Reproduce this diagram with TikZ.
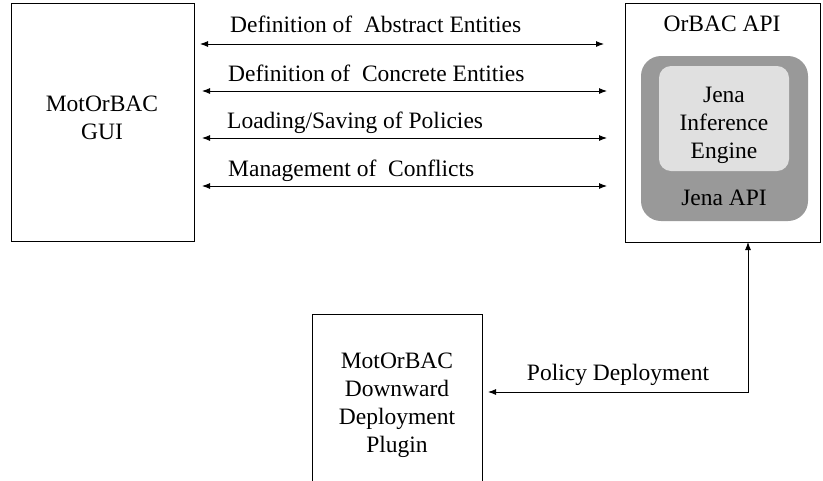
\documentclass[tikz,border=0pt]{standalone}
\usepackage{fontspec}
\setmainfont{Liberation Serif}
\usetikzlibrary{arrows.meta}
\begin{document}
\begin{tikzpicture}[x=1pt,y=-1pt,
  box/.style={draw,line width=0.9pt,inner sep=0pt,outer sep=0pt},
  txt/.style={font=\fontsize{23.5}{28}\selectfont,inner sep=0pt,align=center},
  tip/.style={Latex[length=8pt,width=6pt]},
  biconn/.style={line width=0.9pt,{Latex[length=8pt,width=6pt]}-{Latex[length=8pt,width=6pt]}}]
\clip (0,0) rectangle (823,480);
% boxes
\node[box,minimum width=183pt,minimum height=238pt] (gui) at (102.5,122) {};
\node[box,minimum width=195pt,minimum height=239pt] (api) at (722.5,122.5) {};
\node[fill=black!40,rounded corners=20pt,inner sep=0pt,minimum width=167pt,minimum height=165pt] (jena) at (724.5,138.5) {};
\node[fill=black!12,rounded corners=12pt,inner sep=0pt,minimum width=130pt,minimum height=105pt] (engine) at (724,118.5) {};
\node[box,minimum width=170pt,minimum height=176pt] (plugin) at (397,402) {};
% texts
\node[txt] (guitxt) at (102,118) {MotOrBAC\\GUI};
\node[txt,anchor=base] (apitxt) at (722,31) {OrBAC API};
\node[txt] (enginetxt) at (724,125) {Jena\\Inference\\Engine};
\node[txt,anchor=base] (jenatxt) at (724,205) {Jena API};
\node[txt] (plugintxt) at (397,405) {MotOrBAC\\Downward\\Deployment\\Plugin};
% horizontal connectors
\coordinate (r1) at (400,44);
\coordinate (r2) at (400,91);
\coordinate (r3) at (400,138);
\coordinate (r4) at (400,186);
\draw[biconn] ([xshift=6pt]gui.east |- r1) -- ([xshift=-21pt]api.west |- r1);
\draw[biconn] ([xshift=8pt]gui.east |- r2) -- ([xshift=-18pt]api.west |- r2);
\draw[biconn] ([xshift=8pt]gui.east |- r3) -- ([xshift=-18pt]api.west |- r3);
\draw[biconn] ([xshift=8pt]gui.east |- r4) -- ([xshift=-18pt]api.west |- r4);
\node[txt,anchor=base west] (l1) at (230,32) {Definition of\ \ Abstract Entities};
\node[txt,anchor=base west] (l2) at (228,81) {Definition of\ \ Concrete Entities};
\node[txt,anchor=base west] (l3) at (227,128) {Loading/Saving of Policies};
\node[txt,anchor=base west] (l4) at (228,176) {Management of\ \ Conflicts};
% deployment connector
\coordinate (p1) at (748,392);
\draw[biconn] (p1 |- api.south) -- (p1) -- ([xshift=6pt]plugin.east |- p1);
\node[txt,anchor=base] (pd) at (618,380) {Policy Deployment};
\end{tikzpicture}
\end{document}
